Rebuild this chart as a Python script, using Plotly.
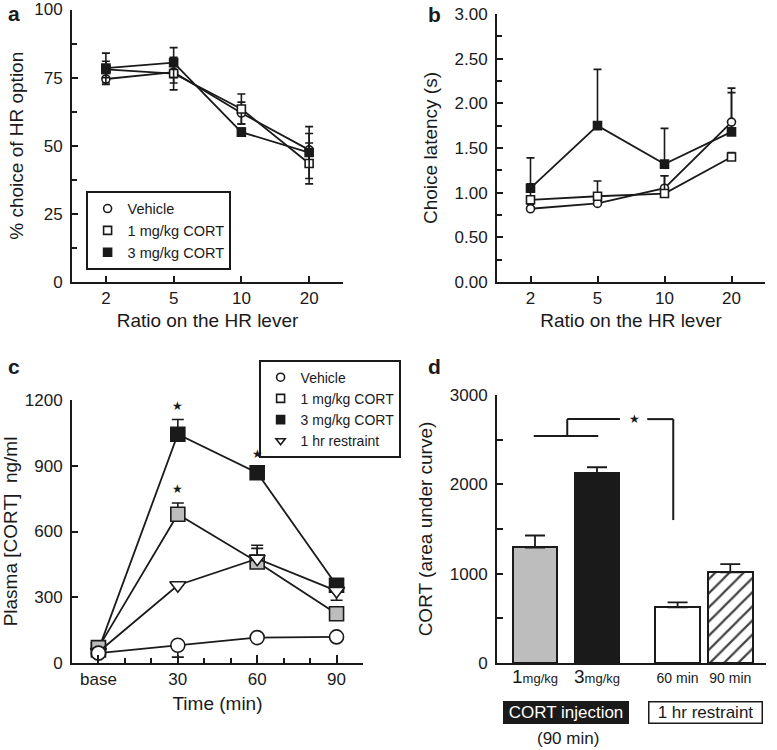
import plotly.graph_objects as go

# ---------------- data ----------------
ratio_labels = ['2', '5', '10', '20']
series_names = ['Vehicle', '1 mg/kg CORT', '3 mg/kg CORT']

a_vehicle = [74.5, 77, 62, 48.5]
a_vehicle_err = [2, 4, 4, 6]
a_cort1 = [78, 76.5, 63.5, 43.5]
a_cort1_err = [3, 6, 5.5, 7.5]
a_cort3 = [78.5, 80.5, 55, 47.5]
a_cort3_err = [5.5, 5.5, 1.5, 9.5]

b_vehicle = [0.82, 0.88, 1.05, 1.79]
b_vehicle_err = [0.05, 0.05, 0.14, 0.33]
b_cort1 = [0.92, 0.96, 0.99, 1.40]
b_cort1_err = [0.18, 0.17, 0.20, 0.05]
b_cort3 = [1.05, 1.75, 1.32, 1.68]
b_cort3_err = [0.34, 0.63, 0.40, 0.49]

time_vals = [0, 30, 60, 90]
time_labels = ['base', '30', '60', '90']
c_vehicle = [45, 81, 116, 119]
c_vehicle_err_minus = [0, 54, 0, 0]
c_cort1 = [70, 679, 461, 225]
c_cort1_err = [0, 51, 62, 0]
c_cort3 = [60, 1044, 868, 355]
c_cort3_err = [0, 67, 20, 0]
c_restraint = [50, 355, 476, 329]
c_restraint_err = [0, 0, 61, 0]
c_restraint_err_minus = [0, 0, 0, 43]
c_star_series = ['cort3', 'cort3', 'cort1']
c_star_times = [30, 60, 30]

d_labels = ['<span style="font-size:19px">1</span><span style="font-size:13px">mg/kg</span>',
            '<span style="font-size:19px">3</span><span style="font-size:13px">mg/kg</span>',
            '60 min', '90 min']
d_values = [1293, 2124, 622, 1014]
d_err = [134, 67, 56, 93]

# ---------------- style ----------------
INK = '#1a1a1a'
FONT = 'Liberation Sans, Arial, sans-serif'
TICK = 17
TITLE = 19
bar_x = [1, 2, 3.3, 4.15]
W, H = 777, 750

fig = go.Figure()

def line_trace(x, y, err, errm, symbol, fill, size, xa, ya, width_cap=4):
    ey = dict(type='data', array=err, arrayminus=errm, symmetric=False,
              color=INK, thickness=1.6, width=width_cap, visible=True)
    return go.Scatter(x=x, y=y, mode='lines+markers', showlegend=False,
                      line=dict(color=INK, width=1.8),
                      marker=dict(symbol=symbol, size=size, color=fill,
                                  line=dict(color=INK, width=1.6)),
                      error_y=ey, xaxis=xa, yaxis=ya)

zeros = [0, 0, 0, 0]
# panel a
fig.add_trace(line_trace(ratio_labels, a_vehicle, a_vehicle_err, a_vehicle_err, 'circle', 'white', 8, 'x', 'y'))
fig.add_trace(line_trace(ratio_labels, a_cort1, a_cort1_err, a_cort1_err, 'square', 'white', 8, 'x', 'y'))
fig.add_trace(line_trace(ratio_labels, a_cort3, a_cort3_err, a_cort3_err, 'square', INK, 8, 'x', 'y'))

# panel b
fig.add_trace(line_trace(ratio_labels, b_cort3, b_cort3_err, zeros, 'square', INK, 8, 'x2', 'y2'))
fig.add_trace(line_trace(ratio_labels, b_vehicle, b_vehicle_err, zeros, 'circle', 'white', 8, 'x2', 'y2'))
fig.add_trace(line_trace(ratio_labels, b_cort1, b_cort1_err, zeros, 'square', 'white', 8, 'x2', 'y2'))

# panel c
fig.add_trace(line_trace(time_vals, c_cort3, c_cort3_err, zeros, 'square', INK, 14, 'x3', 'y3', 6))
fig.add_trace(line_trace(time_vals, c_cort1, c_cort1_err, zeros, 'square', '#bdbdbd', 14, 'x3', 'y3', 6))
fig.add_trace(line_trace(time_vals, c_restraint, c_restraint_err, c_restraint_err_minus, 'triangle-down', 'white', 14, 'x3', 'y3', 6))
fig.add_trace(line_trace(time_vals, c_vehicle, zeros, c_vehicle_err_minus, 'circle', 'white', 14, 'x3', 'y3', 6))

# legend-only traces
leg_a = [('Vehicle', 'circle', 'white'), ('1 mg/kg CORT', 'square', 'white'), ('3 mg/kg CORT', 'square', INK)]
for nm, sym, fc in leg_a:
    fig.add_trace(go.Scatter(x=[None], y=[None], mode='markers', name=nm, legend='legend',
                             marker=dict(symbol=sym, size=8, color=fc, line=dict(color=INK, width=1.6)),
                             xaxis='x', yaxis='y'))
leg_c = leg_a + [('1 hr restraint', 'triangle-down', 'white')]
for nm, sym, fc in leg_c:
    fig.add_trace(go.Scatter(x=[None], y=[None], mode='markers', name=nm, legend='legend2',
                             marker=dict(symbol=sym, size=8, color=fc, line=dict(color=INK, width=1.6)),
                             xaxis='x3', yaxis='y3'))

# panel d bars
fig.add_trace(go.Bar(x=bar_x, y=d_values, width=0.72, showlegend=False,
                     marker=dict(color=['#bdbdbd', INK, 'white', 'white'],
                                 line=dict(color=INK, width=2),
                                 pattern=dict(shape=['', '', '', '/'], fgcolor=INK, bgcolor='white',
                                              fgopacity=1, size=10, solidity=0.22)),
                     error_y=dict(type='data', array=d_err, arrayminus=zeros, symmetric=False,
                                  color=INK, thickness=1.8, width=10),
                     xaxis='x4', yaxis='y4'))

# stars in panel c
series_map = {'cort3': (c_cort3, c_cort3_err), 'cort1': (c_cort1, c_cort1_err)}
annotations = []
for s, t in zip(c_star_series, c_star_times):
    vals, errs = series_map[s]
    i = time_vals.index(t)
    annotations.append(dict(x=t, y=vals[i] + errs[i], xref='x3', yref='y3', text='★', showarrow=False,
                            font=dict(size=12, color=INK), yshift=14))

# panel letters
for lab, px, py, anc in [('a', 6, 0, 'top'), ('b', 426, 1, 'top'), ('c', 6, 366, 'middle'), ('d', 426, 366, 'middle')]:
    annotations.append(dict(x=px / W, y=1 - py / H, xref='paper', yref='paper', text='<b>%s</b>' % lab,
                            showarrow=False, xanchor='left', yanchor=anc, font=dict(size=21, color=INK)))

# panel d group labels
annotations.append(dict(x=1.5, y=1 - 712 / H, xref='x4', yref='paper', text='CORT injection', showarrow=False,
                        xanchor='center', yanchor='middle',
                        font=dict(size=17, color='white'), bgcolor=INK, bordercolor=INK, borderwidth=1,
                        borderpad=1, width=122, height=19))
annotations.append(dict(x=3.75, y=1 - 712 / H, xref='x4', yref='paper', text='1 hr restraint', showarrow=False,
                        xanchor='center', yanchor='middle',
                        font=dict(size=17, color=INK), bgcolor='white', bordercolor=INK, borderwidth=1.5,
                        borderpad=1, width=110, height=18))
annotations.append(dict(x=1.53, y=1 - 738 / H, xref='x4', yref='paper', text='(90 min)', showarrow=False,
                        xanchor='center', yanchor='middle', font=dict(size=17, color=INK)))
annotations.append(dict(x=2.6, y=2730, xref='x4', yref='y4', text='★', showarrow=False,
                        font=dict(size=12, color=INK)))

# significance bracket in panel d
shapes = []
for x0, y0, x1, y1 in [(0.98, 2540, 2.02, 2540), (1.52, 2540, 1.52, 2730), (1.52, 2730, 2.37, 2730),
                       (2.81, 2730, 3.23, 2730), (3.23, 2730, 3.23, 1600)]:
    shapes.append(dict(type='line', xref='x4', yref='y4', x0=x0, y0=y0, x1=x1, y1=y1,
                       line=dict(color=INK, width=2)))

def axis_common(**kw):
    d = dict(showline=True, linecolor=INK, linewidth=2, showgrid=False, zeroline=False, automargin=False,
             ticks='inside', ticklen=6, tickwidth=1.6, tickcolor=INK,
             tickfont=dict(size=TICK, color=INK), title_font=dict(size=TITLE, color=INK))
    d.update(kw)
    return d

def minor(dt, ln=5):
    return dict(ticks='inside', ticklen=ln, tickwidth=1.6, tickcolor=INK, dtick=dt, tick0=0)

fig.update_layout(
    width=W, height=H, margin=dict(l=0, r=0, t=0, b=0, autoexpand=False),
    paper_bgcolor='white', plot_bgcolor='white',
    font=dict(family=FONT, color=INK),
    xaxis=axis_common(domain=[72 / W, 343 / W], anchor='y', type='category', range=[-0.5, 3.5],
                      title=dict(text='Ratio on the HR lever', standoff=6), ticklabelstandoff=0),
    yaxis=axis_common(domain=[1 - 282 / H, 1 - 9.5 / H], anchor='x', range=[0, 100],
                      tickvals=[0, 25, 50, 75, 100], minor=minor(12.5),
                      title=dict(text='% choice of HR option', standoff=6), ticklabelstandoff=4),
    xaxis2=axis_common(domain=[497 / W, 765 / W], anchor='y2', type='category', range=[-0.5, 3.5],
                       title=dict(text='Ratio on the HR lever', standoff=6), ticklabelstandoff=0),
    yaxis2=axis_common(domain=[1 - 282 / H, 1 - 14 / H], anchor='x2', range=[0, 3],
                       tickvals=[0, 0.5, 1, 1.5, 2, 2.5, 3], tickformat='.2f', minor=minor(0.25),
                       title=dict(text='Choice latency (s)', standoff=12), ticklabelstandoff=4),
    xaxis3=axis_common(domain=[72 / W, 363 / W], anchor='y3', range=[-10, 100],
                       tickvals=time_vals, ticktext=time_labels, ticklen=8, minor=minor(10),
                       title=dict(text='Time (min)', standoff=8), ticklabelstandoff=0),
    yaxis3=axis_common(domain=[1 - 663 / H, 1 - 400 / H], anchor='x3', range=[0, 1200],
                       tickvals=[0, 300, 600, 900, 1200],
                       title=dict(text='Plasma [CORT]  ng/ml', standoff=5), ticklabelstandoff=4),
    xaxis4=axis_common(domain=[497 / W, 766 / W], anchor='y4', range=[0.387, 4.726],
                       tickvals=bar_x, ticktext=d_labels, ticks='', tickfont=dict(size=14, color=INK),
                       ticklabelstandoff=1),
    yaxis4=axis_common(domain=[1 - 663 / H, 1 - 395 / H], anchor='x4', range=[0, 3000],
                       tickvals=[0, 1000, 2000, 3000], minor=minor(500, 6),
                       title=dict(text='CORT (area under curve)', standoff=12), ticklabelstandoff=4),
    legend=dict(x=86 / W, y=1 - 191 / H, xanchor='left', yanchor='top', bgcolor='white',
                bordercolor=INK, borderwidth=1.6, font=dict(size=14.5, color=INK), tracegroupgap=0),
    legend2=dict(x=259 / W, y=1 - 360 / H, xanchor='left', yanchor='top', bgcolor='white',
                 bordercolor=INK, borderwidth=1.6, font=dict(size=14, color=INK), tracegroupgap=0),
    annotations=annotations, shapes=shapes, bargap=0,
)

# remove the browser's default 8px body margin so the figure sits at the window origin
fig.write_html('out.html', config={'displayModeBar': False},
               post_script="document.body.style.margin='0px';document.body.style.overflow='hidden';")
